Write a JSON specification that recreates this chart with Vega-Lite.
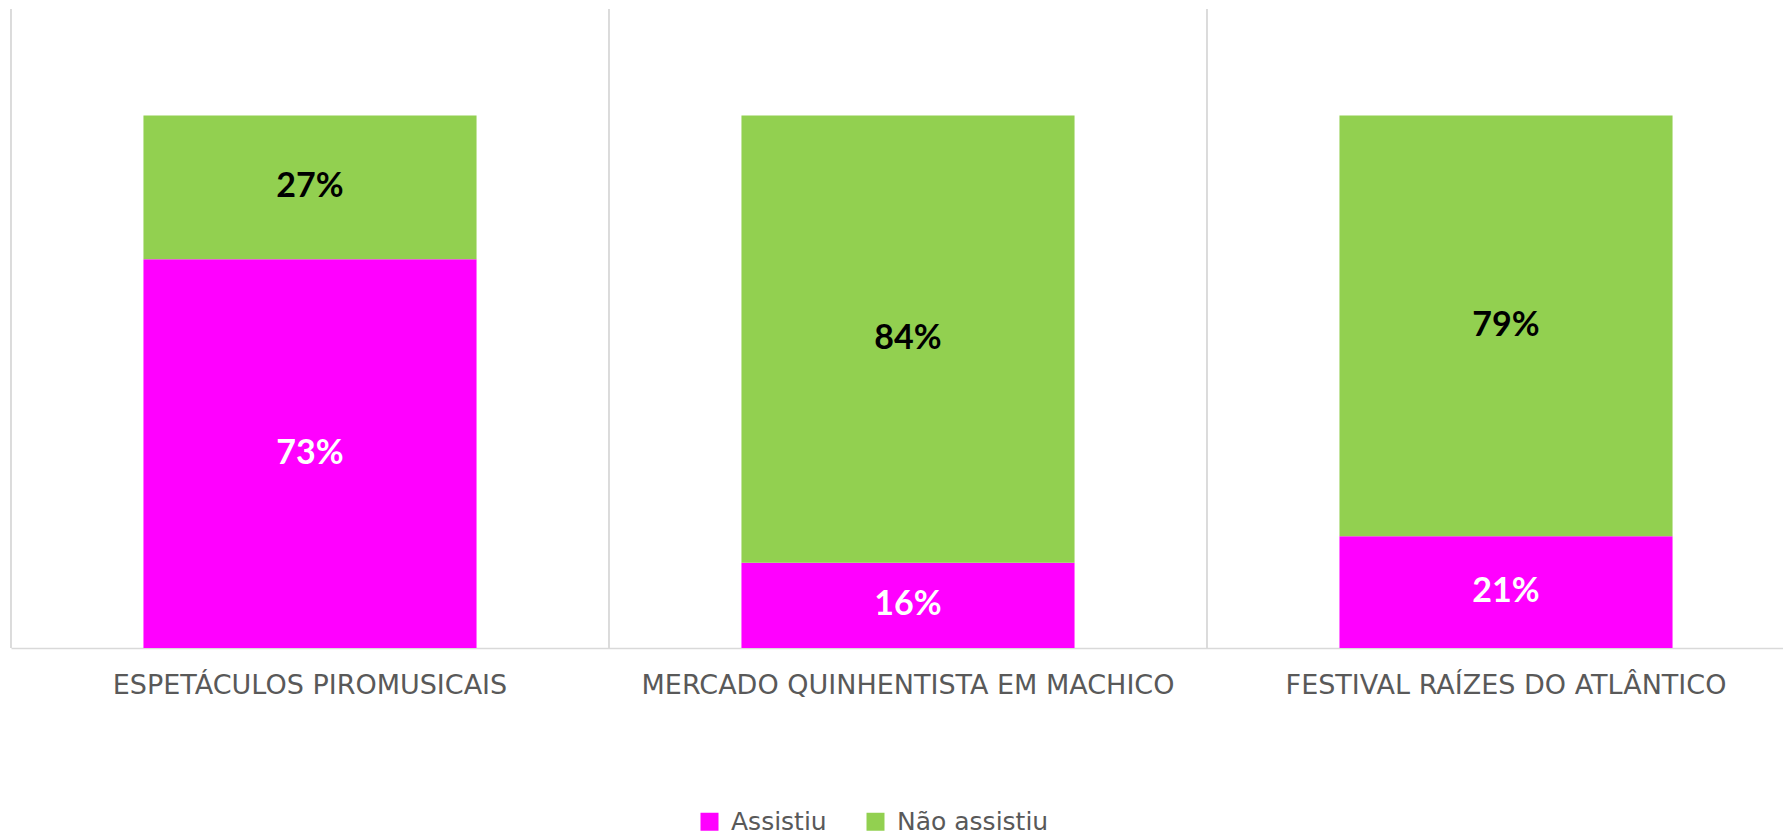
{
  "$schema": "https://vega.github.io/schema/vega-lite/v6.json",
  "width": 1772,
  "height": 639,
  "autosize": {"type": "none"},
  "padding": {"left": 11, "top": 9, "right": 0, "bottom": 187},
  "background": "white",
  "data": {"values": [
    {"evento": "ESPETÁCULOS PIROMUSICAIS", "resposta": "Assistiu", "ordem": 1, "valor": 0.73},
    {"evento": "ESPETÁCULOS PIROMUSICAIS", "resposta": "Não assistiu", "ordem": 2, "valor": 0.27},
    {"evento": "MERCADO QUINHENTISTA EM MACHICO", "resposta": "Assistiu", "ordem": 1, "valor": 0.16},
    {"evento": "MERCADO QUINHENTISTA EM MACHICO", "resposta": "Não assistiu", "ordem": 2, "valor": 0.84},
    {"evento": "FESTIVAL RAÍZES DO ATLÂNTICO", "resposta": "Assistiu", "ordem": 1, "valor": 0.21},
    {"evento": "FESTIVAL RAÍZES DO ATLÂNTICO", "resposta": "Não assistiu", "ordem": 2, "valor": 0.79}
  ]},
  "transform": [
    {"stack": "valor", "groupby": ["evento"], "sort": [{"field": "ordem"}], "as": ["v0", "v1"]},
    {"calculate": "(datum.v0 + datum.v1) / 2", "as": "mid"}
  ],
  "config": {
    "view": {"stroke": null},
    "axisX": {
      "domainColor": "#d9d9d9",
      "domainWidth": 1.5,
      "ticks": false,
      "tickSize": 0,
      "grid": false,
      "labelAngle": 0,
      "labelFont": "DejaVu Sans",
      "labelFontSize": 27,
      "labelColor": "#595959",
      "labelBaseline": "alphabetic",
      "labelPadding": 45,
      "labelLimit": 0
    }
  },
  "layer": [
    {
      "mark": {"type": "rule", "color": "#d9d9d9", "strokeWidth": 1.5},
      "encoding": {
        "x": {"field": "evento", "type": "nominal", "sort": null, "bandPosition": -0.3977,
              "scale": {"paddingInner": 0.443, "paddingOuter": 0.2215, "range": [0, 1794]}, "title": null}
      }
    },
    {
      "mark": {"type": "bar"},
      "encoding": {
        "x": {"field": "evento", "type": "nominal", "sort": null,
              "scale": {"paddingInner": 0.443, "paddingOuter": 0.2215, "range": [0, 1794]}, "title": null},
        "y": {"field": "v0", "type": "quantitative", "scale": {"domain": [0, 1.2], "nice": false, "zero": true}, "axis": null},
        "y2": {"field": "v1"},
        "color": {
          "field": "resposta", "type": "nominal",
          "scale": {"domain": ["Assistiu", "Não assistiu"], "range": ["#FF00FF", "#92D050"]},
          "legend": {
            "orient": "none", "legendX": 686, "legendY": 800, "direction": "horizontal",
            "title": null, "padding": 0,
            "symbolType": "square", "symbolSize": 324, "symbolStrokeWidth": 0, "symbolOpacity": 1,
            "labelFont": "DejaVu Sans", "labelFontSize": 25, "labelColor": "#595959",
            "labelOffset": 9, "columnPadding": 36, "labelLimit": 0
          }
        }
      }
    },
    {
      "mark": {"type": "text", "font": "Lato", "fontWeight": "bold", "fontSize": 34, "baseline": "middle", "align": "center"},
      "encoding": {
        "x": {"field": "evento", "type": "nominal", "sort": null,
              "scale": {"paddingInner": 0.443, "paddingOuter": 0.2215, "range": [0, 1794]}, "title": null},
        "y": {"field": "mid", "type": "quantitative", "scale": {"domain": [0, 1.2], "nice": false, "zero": true}, "axis": null},
        "text": {"field": "valor", "type": "quantitative", "format": ".0%"},
        "color": {
          "field": "resposta", "type": "nominal",
          "scale": {"domain": ["Assistiu", "Não assistiu"], "range": ["#FFFFFF", "#000000"]},
          "legend": null
        }
      }
    }
  ],
  "resolve": {"scale": {"color": "independent"}}
}
